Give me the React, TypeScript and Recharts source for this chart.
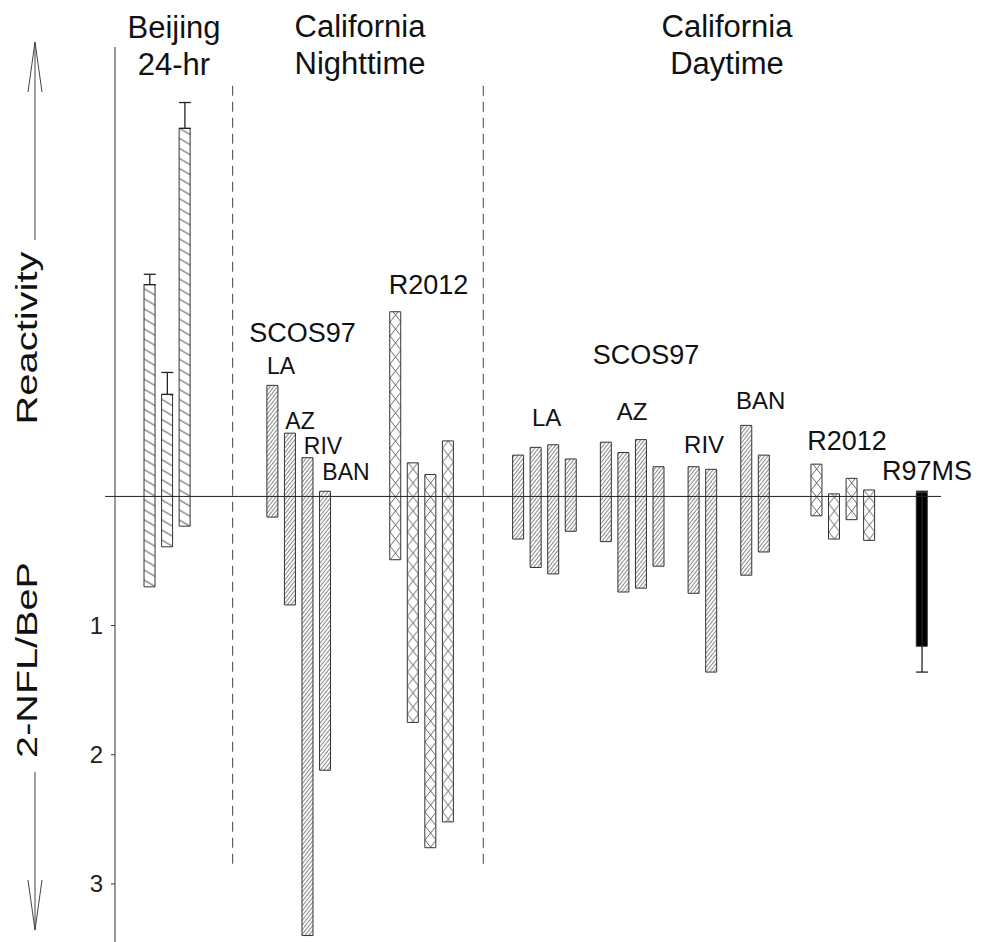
import {
  ComposedChart,
  Bar,
  Cell,
  Scatter,
  ErrorBar,
  XAxis,
  YAxis,
  ReferenceLine,
  ReferenceDot,
} from "recharts";

const FONT = '"Liberation Sans", Arial, sans-serif';

// bar slots (one slot per bar position along the x axis)
const beijingSlots = [0, 1, 2];
const beijingLow = [-1.64, -0.79, -2.85];
const beijingHigh = [0.7, 0.39, 0.23];
const beijingErrTop = [-1.72, -0.96, -3.05];

const nightScosSlots = [7, 8, 9, 10];
const nightScosLow = [-0.86, -0.49, -0.3, -0.04];
const nightScosHigh = [0.16, 0.84, 3.4, 2.12];

const nightR2012Slots = [14, 15, 16, 17];
const nightR2012Low = [-1.43, -0.26, -0.17, -0.43];
const nightR2012High = [0.49, 1.75, 2.72, 2.52];

// LA, AZ, RIV, BAN
const dayScosSlots = [21, 22, 23, 24, 26, 27, 28, 29, 31, 32, 34, 35];
const dayScosLow = [-0.32, -0.38, -0.4, -0.29, -0.42, -0.34, -0.44, -0.23, -0.23, -0.21, -0.55, -0.32];
const dayScosHigh = [0.33, 0.55, 0.6, 0.27, 0.35, 0.74, 0.71, 0.54, 0.75, 1.36, 0.61, 0.43];

const dayR2012Slots = [38, 39, 40, 41];
const dayR2012Low = [-0.25, -0.02, -0.14, -0.05];
const dayR2012High = [0.15, 0.33, 0.18, 0.34];

const r97Slots = [44];
const r97Low = [-0.03];
const r97High = [1.16];
const r97ErrLow = [-0.04];
const r97ErrHigh = [1.36];

const yTicks = [1, 2, 3];
const separatorSlots = [4.72, 19.0];

const subLabels = ["SCOS97", "LA", "AZ", "RIV", "BAN", "R2012", "SCOS97", "LA", "AZ", "RIV", "BAN", "R2012", "R97MS"];
const subLabelSlot = [8.7, 7.48, 8.56, 9.87, 11.18, 15.88, 28.27, 22.61, 27.48, 31.58, 34.8, 39.73, 44.28];
const subLabelY = [-1.27, -1.01, -0.585, -0.39, -0.19, -1.64, -1.1, -0.614, -0.66, -0.405, -0.74, -0.434, -0.2];
const subLabelSize = [27, 23, 23, 23, 23, 27, 27, 24, 24, 24, 24, 27, 27];

const makeRows = (slots: number[], low: number[], high: number[], fill: string) =>
  slots.map((pos, i) => ({ pos, range: [low[i], high[i]], fill }));

const barRows = [
  ...makeRows(beijingSlots, beijingLow, beijingHigh, "url(#hatchWide)"),
  ...makeRows(nightScosSlots, nightScosLow, nightScosHigh, "url(#hatchDense)"),
  ...makeRows(nightR2012Slots, nightR2012Low, nightR2012High, "url(#hatchCross)"),
  ...makeRows(dayScosSlots, dayScosLow, dayScosHigh, "url(#hatchDense)"),
  ...makeRows(dayR2012Slots, dayR2012Low, dayR2012High, "url(#hatchCross)"),
  ...makeRows(r97Slots, r97Low, r97High, "#000"),
];

// whiskers: point at one end of the bar, error reaching the whisker ends
const errorRows = [
  ...beijingSlots.map((pos, i) => ({
    pos,
    y: beijingLow[i],
    err: [beijingLow[i] - beijingErrTop[i], 0],
  })),
  ...r97Slots.map((pos, i) => ({
    pos,
    y: r97High[i],
    err: [r97High[i] - r97ErrLow[i], r97ErrHigh[i] - r97High[i]],
  })),
];

const YTick = (props: any) => {
  const { x, y, payload } = props;
  return (
    <text
      x={x}
      y={y}
      dy={8}
      textAnchor="end"
      fill="#222"
      style={{ fontSize: "24px", fontFamily: FONT }}
    >
      {payload.value}
    </text>
  );
};

export default function App() {
  return (
    <div
      style={{
        position: "absolute",
        left: 0,
        top: 0,
        width: 991,
        height: 942,
        background: "#fff",
        fontFamily: FONT,
      }}
    >
      <ComposedChart
        width={991}
        height={942}
        data={barRows}
        margin={{ top: 47, right: 50, bottom: 0, left: 55 }}
      >
        <defs>
          <pattern id="hatchWide" patternUnits="userSpaceOnUse" width="10" height="8.7" patternTransform="rotate(30)">
            <rect width="10" height="8.7" fill="#fff" />
            <line x1="0" y1="4" x2="10" y2="4" stroke="#555" strokeWidth="1" />
          </pattern>
          <pattern id="hatchDense" patternUnits="userSpaceOnUse" width="6" height="2.9" patternTransform="rotate(-52)">
            <rect width="6" height="2.9" fill="#fff" />
            <line x1="0" y1="1.4" x2="6" y2="1.4" stroke="#666" strokeWidth="0.8" />
          </pattern>
          <pattern id="hatchCross" patternUnits="userSpaceOnUse" x="144.3" y="0" width="17.55" height="14">
            <rect width="17.55" height="14" fill="#fff" />
            <path d="M0 0 L11 14 M11 0 L0 14" stroke="#555" strokeWidth="0.9" fill="none" />
          </pattern>
        </defs>
        <XAxis type="number" dataKey="pos" domain={[-1.983, 45.08]} hide allowDataOverflow />
        <YAxis
          type="number"
          domain={[-3.48, 3.45]}
          reversed
          allowDataOverflow
          ticks={yTicks}
          width={60}
          tickSize={4}
          tickMargin={8}
          axisLine={{ stroke: "#333" }}
          tickLine={{ stroke: "#333" }}
          tick={YTick}
        />
        {separatorSlots.map((x) => (
          <ReferenceLine
            key={x}
            segment={[
              { x, y: -3.18 },
              { x, y: 2.85 },
            ]}
            stroke="#444"
            strokeDasharray="10 6"
            ifOverflow="visible"
          />
        ))}
        <Scatter data={errorRows} dataKey="y" shape={() => <g />} isAnimationActive={false}>
          <ErrorBar dataKey="err" direction="y" width={6} stroke="#222" strokeWidth={1.3} isAnimationActive={false} />
        </Scatter>
        <Bar dataKey="range" barSize={11} stroke="#333" strokeWidth={1} isAnimationActive={false}>
          {barRows.map((r, i) => (
            <Cell key={i} fill={r.fill} />
          ))}
        </Bar>
        <ReferenceLine
          segment={[
            { x: -2.55, y: 0 },
            { x: 45.08, y: 0 },
          ]}
          stroke="#222"
          ifOverflow="visible"
        />
        {subLabels.map((t, i) => (
          <ReferenceDot
            key={i}
            x={subLabelSlot[i]}
            y={subLabelY[i]}
            r={0}
            fill="none"
            stroke="none"
            ifOverflow="visible"
            label={{ value: t, position: "center", fontSize: subLabelSize[i], fill: "#111", fontFamily: FONT }}
          />
        ))}
      </ComposedChart>

      <svg
        width={991}
        height={942}
        style={{ position: "absolute", left: 0, top: 0, pointerEvents: "none" }}
        fontFamily={FONT}
        fill="#111"
      >
        <text x={174} y={38} fontSize={31} textAnchor="middle">Beijing</text>
        <text x={174} y={75} fontSize={31} textAnchor="middle">24-hr</text>
        <text x={360} y={37} fontSize={31} textAnchor="middle">California</text>
        <text x={360} y={74} fontSize={31} textAnchor="middle">Nighttime</text>
        <text x={727} y={37} fontSize={31} textAnchor="middle">California</text>
        <text x={727} y={74} fontSize={31} textAnchor="middle">Daytime</text>

        <g stroke="#444" strokeWidth={1} fill="none">
          <line x1={35} y1={42} x2={35} y2={240} />
          <polyline points="28,92 35,42 42,92" />
          <line x1={35} y1={772} x2={35} y2={930} />
          <polyline points="28,880 35,930 42,880" />
        </g>
        <text transform="translate(37,338) rotate(-90) scale(1.33,1)" textAnchor="middle" fontSize={30}>
          Reactivity
        </text>
        <text transform="translate(37,660) rotate(-90) scale(1.32,1)" textAnchor="middle" fontSize={30}>
          2-NFL/BeP
        </text>
      </svg>
    </div>
  );
}
